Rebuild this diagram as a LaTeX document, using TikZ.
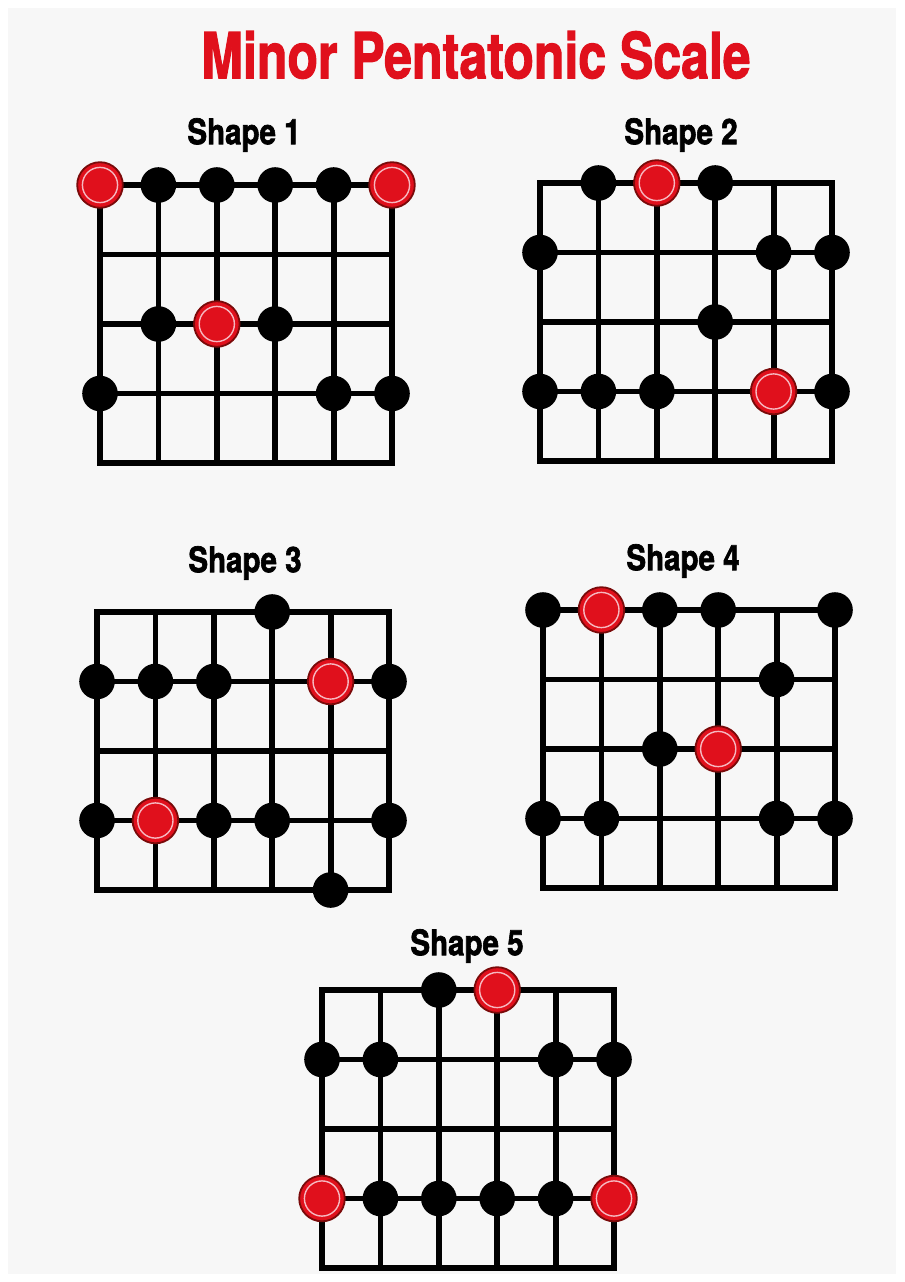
\documentclass[tikz,border=0pt]{standalone}
\usepackage{fontspec}
\setmainfont{TeX Gyre Heros}
\newfontfamily\heavyfont[FakeBold=2]{TeX Gyre Heros Bold}
\definecolor{scalered}{HTML}{E0101C}
\definecolor{ringred}{HTML}{7A0A0A}
\definecolor{ringpink}{HTML}{F6B8C0}
\definecolor{paper}{HTML}{F7F7F7}
\tikzset{
  fret/.style={line width=1.45mm, line cap=rect},
  blackdot/.style={circle, fill=black, minimum size=8.9mm, inner sep=0pt},
  rootdot/.style={circle, fill=scalered, draw=ringred, line width=0.45mm, minimum size=11.4mm, inner sep=0pt,
    path picture={\draw[ringpink, line width=0.35mm] (path picture bounding box.center) circle[radius=4.4mm];}},
  shapelabel/.style={font=\heavyfont\fontsize{25}{25}\selectfont, xscale=0.84},
  board/.style={x=14.6mm, y=-17.375mm}
}
\newcommand\fretboard{%
  \foreach \s in {0,...,5} \draw[fret] (\s,0) -- (\s,4);
  \foreach \f in {0,...,4} \draw[fret] (0,\f) -- (5,\f);
}
\begin{document}
\begin{tikzpicture}[x=0.25mm,y=-0.25mm]
\useasboundingbox[fill=white] (0,0) rectangle (904,1282);
\fill[paper] (8,8) rectangle (896,1274);

\node[font=\heavyfont\fontsize{45}{45}\selectfont, text=scalered, xscale=0.79] (title) at (476,55) {Minor Pentatonic Scale};

\node[shapelabel] (lab1) at (244,135) {Shape 1};
\node[shapelabel] (lab2) at (681,135) {Shape 2};
\node[shapelabel] (lab3) at (245,563) {Shape 3};
\node[shapelabel] (lab4) at (683,561) {Shape 4};
\node[shapelabel] (lab5) at (467,946) {Shape 5};

\begin{scope}[shift={(100,185)}, board]
\fretboard
\foreach \i/\j in {1/0,2/0,3/0,4/0,1/2,3/2,0/3,4/3,5/3} \node[blackdot] (one-\i-\j) at (\i,\j) {};
\foreach \i/\j in {0/0,5/0,2/2} \node[rootdot] (one-\i-\j) at (\i,\j) {};
\end{scope}

\begin{scope}[shift={(540,183)}, board]
\fretboard
\foreach \i/\j in {1/0,3/0,0/1,4/1,5/1,3/2,0/3,1/3,2/3,5/3} \node[blackdot] (two-\i-\j) at (\i,\j) {};
\foreach \i/\j in {2/0,4/3} \node[rootdot] (two-\i-\j) at (\i,\j) {};
\end{scope}

\begin{scope}[shift={(97,612)}, board]
\fretboard
\foreach \i/\j in {3/0,0/1,1/1,2/1,5/1,0/3,2/3,3/3,5/3,4/4} \node[blackdot] (three-\i-\j) at (\i,\j) {};
\foreach \i/\j in {4/1,1/3} \node[rootdot] (three-\i-\j) at (\i,\j) {};
\end{scope}

\begin{scope}[shift={(543,610)}, board]
\fretboard
\foreach \i/\j in {0/0,2/0,3/0,5/0,4/1,2/2,0/3,1/3,4/3,5/3} \node[blackdot] (four-\i-\j) at (\i,\j) {};
\foreach \i/\j in {1/0,3/2} \node[rootdot] (four-\i-\j) at (\i,\j) {};
\end{scope}

\begin{scope}[shift={(322,990)}, board]
\fretboard
\foreach \i/\j in {2/0,0/1,1/1,4/1,5/1,1/3,2/3,3/3,4/3} \node[blackdot] (five-\i-\j) at (\i,\j) {};
\foreach \i/\j in {3/0,0/3,5/3} \node[rootdot] (five-\i-\j) at (\i,\j) {};
\end{scope}
\end{tikzpicture}
\end{document}
